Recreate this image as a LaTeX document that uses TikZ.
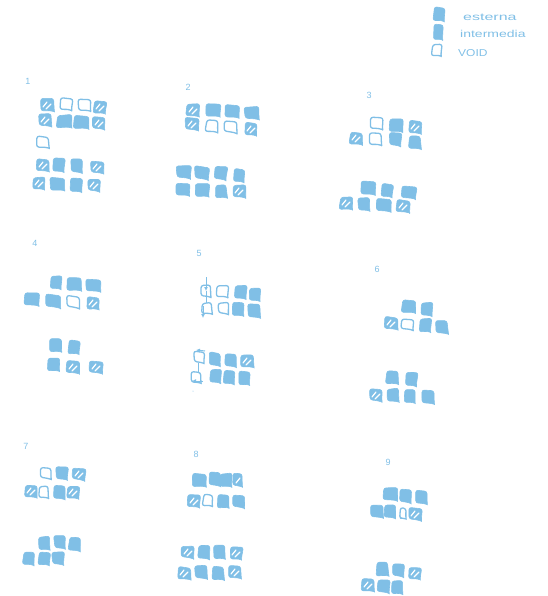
\documentclass[tikz,border=0pt]{standalone}
\usepackage{fontspec}
\setmainfont{Liberation Sans}
\newfontfamily\lega[FakeStretch=1.6]{Liberation Sans}
\newfontfamily\legb[FakeStretch=1.4]{Liberation Sans}
\newfontfamily\legc[FakeStretch=1.2]{Liberation Sans}
\usetikzlibrary{arrows.meta}
\definecolor{sk}{HTML}{80BFE6}
\pgfmathsetseed{4711}
\tikzset{x=1pt,y=-1pt,
  fullc/.style={fill=sk,draw=sk,line width=0.6pt,line join=round},
  voidc/.style={fill=white,draw=sk,line width=1.3pt,line join=round},
  stripe/.style={draw=white,line width=1.2pt,line cap=round},
  lab/.style={text=sk,font=\fontsize{9}{9}\selectfont,inner sep=0pt},
  leg/.style={text=sk,inner sep=0pt,anchor=west},
  conn/.style={draw=sk,line width=1pt},
  arr/.style={draw=sk,line width=1pt,-{Latex[length=4pt,width=4pt]}}}
\newcommand\skshape[5]{% style,x,y,w,h
  \pgfmathsetmacro\wa{#4/2}\pgfmathsetmacro\ha{#5/2}
  \pgfmathsetmacro\ja{rand*0.9}\pgfmathsetmacro\jb{rand*0.9}
  \pgfmathsetmacro\jc{rand*0.9}\pgfmathsetmacro\jd{rand*0.9}
  \pgfmathsetmacro\je{rand*0.9}\pgfmathsetmacro\jf{rand*0.9}
  \pgfmathsetmacro\rt{rand*3+2}
  \begin{scope}[shift={(#2,#3)},rotate=-\rt]
    \draw[#1,rounded corners=2.4pt] (-\wa+\ja,-\ha+\jb) -- (\wa+\jc,-\ha+\jd)
      -- (\wa+\je,\ha-1) [sharp corners] -- (\wa+\je+0.3,\ha+1) [rounded corners=2.4pt]
      -- (\wa-3,\ha) -- (-\wa+\jf,\ha+\ja) -- cycle;
  \end{scope}}
\newcommand\fc[2]{\skshape{fullc}{#1}{#2}{14.5}{12}}
\newcommand\fn[2]{\skshape{fullc}{#1}{#2}{11.5}{12.5}}
\newcommand\vc[2]{\skshape{voidc}{#1}{#2}{12}{10.5}}
\newcommand\vn[2]{\skshape{voidc}{#1}{#2}{9.5}{10.5}}
\newcommand\hc[2]{\skshape{fullc}{#1}{#2}{12.5}{11.5}
  \draw[stripe] (#1-4,#2+2) -- (#1,#2-3) (#1-1,#2+4) -- (#1+4,#2-1);}
\begin{document}
\begin{tikzpicture}
\useasboundingbox (0,0) rectangle (547,596);
% legend
\fn{439}{14}\skshape{fullc}{438}{32}{10}{14}\vn{437}{50}
\node[leg,font=\fontsize{10}{10}\lega] (la) at (463,17) {esterna};
\node[leg,font=\fontsize{10}{10}\legb] (lb) at (460,34) {intermedia};
\node[leg,font=\fontsize{10}{10}\legc] (lc) at (458,53) {VOID};
% labels
\node[lab] (n1) at (28,81) {1};
\node[lab] (n2) at (188,87) {2};
\node[lab] (n3) at (369,95) {3};
\node[lab] (n4) at (35,243) {4};
\node[lab] (n5) at (199,253) {5};
\node[lab] (n6) at (377,269) {6};
\node[lab] (n7) at (26,446) {7};
\node[lab] (n8) at (196,454) {8};
\node[lab] (n9) at (388,462) {9};
% group 1
\hc{47}{105}\vc{66}{104}\vc{84}{105}\hc{100}{107}
\hc{45}{120}\fc{64}{121}\fc{81}{122}\hc{99}{123}
\vc{43}{142}
\hc{43}{165}\fn{59}{165}\fn{77}{166}\hc{97}{167}
\hc{39}{183}\fc{57}{184}\fn{76}{185}\hc{94}{185}
% group 2
\hc{193}{110}\fc{213}{110}\fc{232}{111}\fc{252}{113}
\hc{192}{124}\vc{212}{126}\vc{231}{127}\hc{251}{129}
\fc{184}{172}\fc{202}{173}\fn{221}{173}\fn{239}{175}
\fc{183}{189}\fc{202}{190}\fn{221}{191}\hc{239}{191}
% group 3
\vc{376}{123}\fc{396}{125}\hc{415}{127}
\hc{356}{138}\vc{375}{139}\fn{395}{139}\fn{415}{142}
\fc{368}{188}\fn{387}{190}\fc{409}{192}
\hc{346}{203}\fn{364}{204}\fc{384}{205}\hc{403}{206}
% group 4
\fn{56}{282}\fc{74}{284}\fc{93}{285}
\fc{32}{299}\fc{53}{301}\vc{73}{302}\hc{93}{303}
\fn{55}{345}\fn{74}{347}
\fn{53}{364}\hc{73}{367}\hc{96}{367}
% group 5
\vn{206}{291}\vc{222}{291}\fn{241}{292}\fn{255}{294}
\vn{207}{308}\vn{223}{308}\fn{238}{309}\fn{254}{311}
\vn{199}{357}\fn{215}{359}\fn{231}{360}\hc{247}{361}
\vn{196}{377}\fn{216}{376}\fn{229}{377}\fn{244}{378}
\coordinate (a1) at (206,277); \coordinate (a2) at (206,291);
\coordinate (a3) at (206,303); \coordinate (a4) at (203,306);
\coordinate (a5) at (203,318); \coordinate (b1) at (205,351);
\coordinate (b2) at (196,350); \coordinate (b3) at (198,363);
\coordinate (b4) at (198,372); \coordinate (b5) at (203,381);
\coordinate (b6) at (192,381);
\draw[arr] (a1) -- (a2);
\draw[conn] (a2) -- (a3);
\draw[arr] (a4) -- (a5);
\draw[arr] (b1) -- (b2);
\draw[conn] (b3) -- (b4);
\draw[arr] (b5) -- (b6);
\fill[sk] (193,391) circle (0.5pt);
% group 6
\fc{409}{306}\fn{427}{309}
\hc{391}{323}\vc{408}{324}\fn{425}{325}\fn{442}{327}
\fn{392}{377}\fn{411}{379}
\hc{376}{395}\fn{393}{395}\fn{410}{396}\fn{428}{397}
% group 7
\vn{46}{473}\fn{62}{473}\hc{79}{474}
\hc{31}{491}\vn{44}{492}\fn{59}{492}\hc{73}{492}
\fn{44}{543}\fn{60}{542}\fn{75}{544}
\fn{29}{558}\fn{44}{558}\fn{58}{558}
% group 8
\fc{199}{480}\fn{215}{479}\fn{226}{480}\skshape{fullc}{238}{480}{9}{12}
\draw[stripe] (236,483) -- (240,478);
\hc{194}{501}\vn{208}{500}\fn{223}{501}\fn{239}{501}
\hc{188}{552}\fn{204}{552}\fn{219}{552}\hc{236}{553}
\hc{184}{573}\fn{201}{572}\fn{218}{573}\hc{235}{572}
% group 9
\fc{391}{494}\fn{406}{496}\fn{421}{497}
\fn{377}{511}\fn{390}{511}\skshape{voidc}{403}{513}{6}{10}\hc{415}{514}
\fn{382}{569}\fn{399}{570}\hc{415}{573}
\hc{368}{585}\fn{384}{586}\fn{397}{587}
\end{tikzpicture}
\end{document}
